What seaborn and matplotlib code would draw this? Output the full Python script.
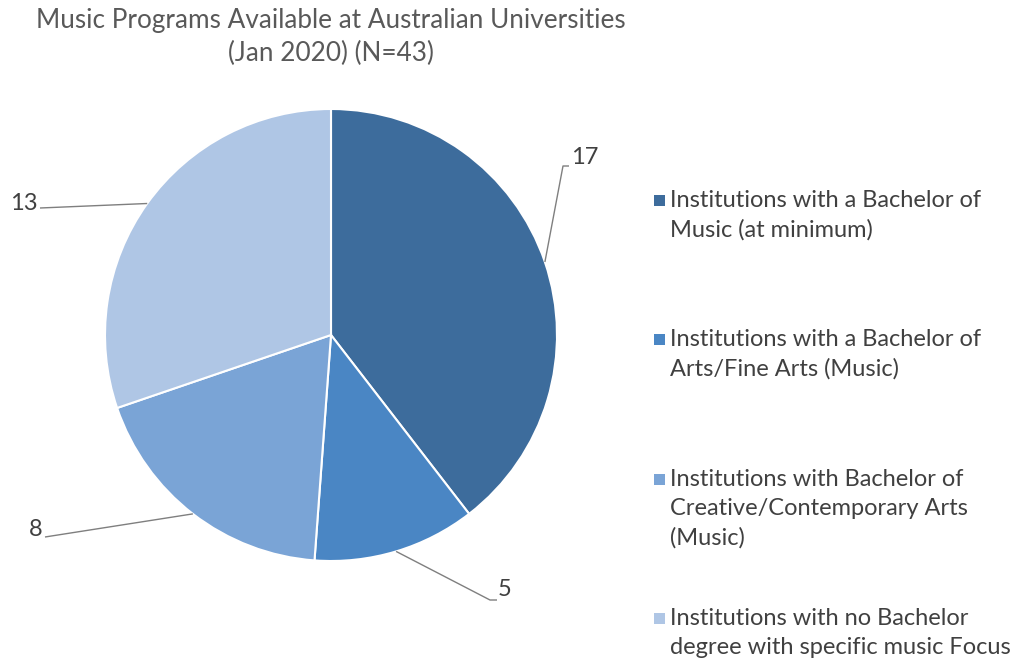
import matplotlib
matplotlib.use("Agg")
import matplotlib.pyplot as plt
import seaborn as sns
import numpy as np
from matplotlib.patches import Rectangle

sns.set_theme(style="white")
plt.rcParams['font.family'] = ['Lato', 'DejaVu Sans']

title = "Music Programs Available at Australian Universities\n(Jan 2020) (N=43)"
categories = [
    "Institutions with a Bachelor of\nMusic (at minimum)",
    "Institutions with a Bachelor of\nArts/Fine Arts (Music)",
    "Institutions with Bachelor of\nCreative/Contemporary Arts\n(Music)",
    "Institutions with no Bachelor\ndegree with specific music Focus",
]
values = [17, 5, 8, 13]
colors = ["#3D6C9C", "#4A86C4", "#7AA4D6", "#AFC6E5"]

W, H = 1010, 664
fig = plt.figure(figsize=(W / 100, H / 100), dpi=100)
fig.patch.set_facecolor("white")

# pie axes: center at pixel (331, 335), radius 226 px
cx, cy, R = 331, 335, 226
ax = fig.add_axes([0, 0, 640 / W, (H - 80) / H])

wedges, _ = ax.pie(values, colors=colors, startangle=90, counterclock=False,
                   radius=1, wedgeprops=dict(edgecolor="white", linewidth=1.5))
ax.set_aspect("auto")
ax.set_xlim((0 - cx) / R, (640 - cx) / R)
ax.set_ylim((cy - H) / R, (cy - 80) / R)
ax.axis("off")

def px(x, y):
    return ((x - cx) / R, (cy - y) / R)

# leader lines & labels (pixel layout positions)
label_layout = [
    ([(563, 166), (569, 166)], (571, 158), "left"),
    ([(490, 600), (497, 600)], (498, 590), "left"),
    ([(45, 537)], (43, 530), "right"),
    ([(40, 208)], (38, 203), "right"),
]
total = sum(values)
start = 0.0
for v, w, (pts, tpos, ha) in zip(values, wedges, label_layout):
    mid = start + v / total * 360 / 2
    start += v / total * 360
    a = np.deg2rad(mid)
    x0, y0 = np.sin(a), np.cos(a)
    xs = [x0] + [px(*p)[0] for p in pts]
    ys = [y0] + [px(*p)[1] for p in pts]
    ax.plot(xs, ys, color="#7F7F7F", lw=1.0, solid_capstyle="butt")
    tx, ty = px(*tpos)
    ax.text(tx, ty, str(v), ha=ha, va="center", fontsize=17, color="#404040")

fig.text(cx / W, 1 - 37 / H, title, ha="center", va="center", fontsize=18.8,
         color="#595959", linespacing=1.42)

# legend
tops = [200, 339, 479, 618]
for lab, col, t in zip(categories, colors, tops):
    fig.patches.append(Rectangle((654 / W, 1 - (t + 6) / H), 11 / W, 11 / H,
                                 transform=fig.transFigure, facecolor=col,
                                 edgecolor="none"))
    fig.text(670 / W, 1 - (t - 10) / H, lab, ha="left", va="top", fontsize=17,
             color="#404040", linespacing=1.46)

fig.savefig("out.png", dpi=100, facecolor="white")
